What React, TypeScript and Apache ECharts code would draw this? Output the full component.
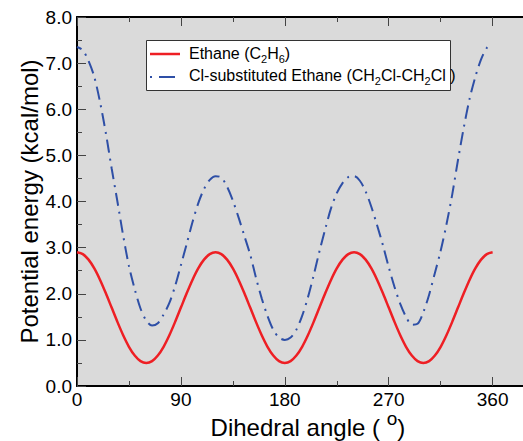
import React, { useEffect, useRef } from "react";
import * as echarts from "echarts";

// Dihedral angles (degrees), 5° steps
const angles: number[] = [
  0, 5, 10, 15, 20, 25, 30, 35, 40, 45, 50, 55, 60, 65, 70, 75, 80, 85, 90, 95,
  100, 105, 110, 115, 120, 125, 130, 135, 140, 145, 150, 155, 160, 165, 170, 175,
  180, 185, 190, 195, 200, 205, 210, 215, 220, 225, 230, 235, 240, 245, 250, 255,
  260, 265, 270, 275, 280, 285, 290, 295, 300, 305, 310, 315, 320, 325, 330, 335,
  340, 345, 350, 355, 360,
];

// Ethane (C2H6) potential energy, kcal/mol
const ethane: number[] = [
  2.9, 2.86, 2.74, 2.55, 2.3, 2.01, 1.7, 1.39, 1.1, 0.85, 0.66, 0.54, 0.5,
  0.54, 0.66, 0.85, 1.1, 1.39, 1.7, 2.01, 2.3, 2.55, 2.74, 2.86, 2.9,
  2.86, 2.74, 2.55, 2.3, 2.01, 1.7, 1.39, 1.1, 0.85, 0.66, 0.54, 0.5,
  0.54, 0.66, 0.85, 1.1, 1.39, 1.7, 2.01, 2.3, 2.55, 2.74, 2.86, 2.9,
  2.86, 2.74, 2.55, 2.3, 2.01, 1.7, 1.39, 1.1, 0.85, 0.66, 0.54, 0.5,
  0.54, 0.66, 0.85, 1.1, 1.39, 1.7, 2.01, 2.3, 2.55, 2.74, 2.86, 2.9,
];

// Cl-substituted ethane (CH2Cl-CH2Cl) potential energy, kcal/mol
const chloroEthane: number[] = [
  7.35, 7.28, 7.05, 6.7, 6.15, 5.48, 4.72, 4.0, 3.26, 2.6, 2.1, 1.68, 1.42,
  1.31, 1.36, 1.55, 1.8, 2.17, 2.62, 3.08, 3.55, 3.96, 4.27, 4.47, 4.55,
  4.52, 4.32, 4.02, 3.65, 3.25, 2.85, 2.35, 1.9, 1.52, 1.22, 1.05, 1.0,
  1.05, 1.22, 1.52, 1.92, 2.4, 2.92, 3.4, 3.85, 4.18, 4.4, 4.53, 4.55,
  4.45, 4.22, 3.88, 3.48, 3.05, 2.58, 2.15, 1.78, 1.5, 1.33, 1.35, 1.6,
  1.98, 2.45, 2.93, 3.5, 4.15, 4.9, 5.6, 6.22, 6.7, 7.08, 7.33, 7.4,
];

const xTickLabels: number[] = [0, 90, 180, 270, 360];

const FONT = "Liberation Sans, Arial, Helvetica, sans-serif";
const RED = "#ee1f24";
const BLUE = "#2e4fa6";

export default function App() {
  const ref = useRef<HTMLDivElement>(null);

  useEffect(() => {
    if (!ref.current) return;
    const chart = echarts.init(ref.current, undefined, { renderer: "svg" });

    const xBase = {
      type: "value" as const,
      min: 0,
      max: 400,
      gridIndex: 0,
      splitLine: { show: false },
    };

    const legendRich = {
      n: { fontSize: 16, fontFamily: FONT, fill: "#000", color: "#000", verticalAlign: "middle" },
      s: { fontSize: 11, fontFamily: FONT, fill: "#000", color: "#000", verticalAlign: "middle", padding: [11, 0, 0, 0] },
    };

    const option: any = {
      animation: false,
      backgroundColor: "#ffffff",
      grid: {
        left: 77,
        top: 17,
        width: 461.8,
        height: 369,
        show: true,
        backgroundColor: "#dadada",
        borderWidth: 0,
        outerBoundsMode: "none",
        containLabel: false,
      },
      xAxis: [
        {
          ...xBase,
          position: "bottom",
          interval: 90,
          axisLine: { show: true, lineStyle: { color: "#000", width: 2 } },
          axisTick: { show: true, inside: true, length: 9, lineStyle: { color: "#444", width: 1 } },
          axisLabel: {
            show: true,
            margin: 4,
            fontSize: 19,
            fontFamily: FONT,
            color: "#000",
            formatter: (v: number) => (xTickLabels.indexOf(v) >= 0 ? String(v) : ""),
          },
          name: "{n|Dihedral angle ( }{p|o}{n|)}",
          nameLocation: "middle",
          nameGap: 13,
          nameMoveOverlap: false,
          nameTextStyle: {
            fontFamily: FONT,
            fontSize: 24,
            color: "#000",
            rich: {
              n: { fontSize: 24, fontFamily: FONT, color: "#000", lineHeight: 56, verticalAlign: "middle" },
              p: { fontSize: 19, fontFamily: FONT, color: "#000", verticalAlign: "middle", padding: [0, 0, 17, 0] },
            },
          },
        },
        {
          ...xBase,
          position: "bottom",
          interval: 45,
          axisLine: { show: false },
          axisTick: { show: true, inside: true, length: 5, lineStyle: { color: "#444", width: 1 } },
          axisLabel: { show: false },
        },
        {
          ...xBase,
          position: "top",
          interval: 90,
          axisLine: { show: true, lineStyle: { color: "#000", width: 2 } },
          axisTick: { show: true, inside: true, length: 9, lineStyle: { color: "#444", width: 1 } },
          axisLabel: { show: false },
        },
        {
          ...xBase,
          position: "top",
          interval: 45,
          axisLine: { show: false },
          axisTick: { show: true, inside: true, length: 5, lineStyle: { color: "#444", width: 1 } },
          axisLabel: { show: false },
        },
      ],
      yAxis: {
        type: "value",
        min: 0,
        max: 8,
        interval: 1,
        position: "left",
        splitLine: { show: false },
        axisLine: { show: true, lineStyle: { color: "#000", width: 2 } },
        axisTick: { show: true, inside: true, length: 9, lineStyle: { color: "#444", width: 1 } },
        minorTick: { show: true, splitNumber: 2, length: 5, lineStyle: { color: "#444", width: 1 } },
        axisLabel: {
          margin: 5,
          fontSize: 19,
          fontFamily: FONT,
          color: "#000",
          formatter: (v: number) => v.toFixed(1),
        },
        name: "Potential energy (kcal/mol)",
        nameLocation: "middle",
        nameGap: 36,
        nameMoveOverlap: false,
        nameTextStyle: { fontFamily: FONT, fontSize: 24, color: "#000" },
      },
      series: [
        {
          name: "Ethane (C2H6)",
          type: "line",
          xAxisIndex: 0,
          data: angles.map((a, i) => [a, ethane[i]]),
          symbol: "none",
          smooth: 0.3,
          lineStyle: { color: RED, width: 2.5 },
          z: 3,
        },
        {
          name: "Cl-substituted Ethane (CH2Cl-CH2Cl )",
          type: "line",
          xAxisIndex: 0,
          data: angles.map((a, i) => [a, chloroEthane[i]]),
          symbol: "none",
          smooth: 0.3,
          lineStyle: { color: BLUE, width: 2, type: [13, 6, 2, 6], dashOffset: 8 },
          z: 2,
        },
      ],
      graphic: [
        {
          type: "rect",
          shape: { x: 146.5, y: 40.5, width: 304, height: 50 },
          style: { fill: "#ffffff", stroke: "#333333", lineWidth: 1 },
          z: 10,
        },
        {
          type: "line",
          shape: { x1: 150, y1: 54, x2: 180, y2: 54 },
          style: { stroke: RED, lineWidth: 2.5 },
          z: 11,
        },
        {
          type: "line",
          shape: { x1: 150, y1: 77, x2: 180, y2: 77 },
          style: { stroke: BLUE, lineWidth: 2, lineDash: [2, 7, 16, 5] },
          z: 11,
        },
        {
          type: "text",
          x: 189,
          y: 53,
          z: 11,
          style: {
            text: "{n|Ethane (C}{s|2}{n|H}{s|6}{n|)}",
            fill: "#000",
            verticalAlign: "middle",
            rich: legendRich,
          },
        },
        {
          type: "text",
          x: 189,
          y: 75.5,
          z: 11,
          style: {
            text: "{n|Cl-substituted Ethane (CH}{s|2}{n|Cl-CH}{s|2}{n|Cl )}",
            fill: "#000",
            verticalAlign: "middle",
            rich: legendRich,
          },
        },
      ],
    };

    chart.setOption(option);
    return () => {
      chart.dispose();
    };
  }, []);

  return (
    <div
      ref={ref}
      style={{ position: "fixed", left: 0, top: 0, width: 523, height: 441 }}
    />
  );
}
